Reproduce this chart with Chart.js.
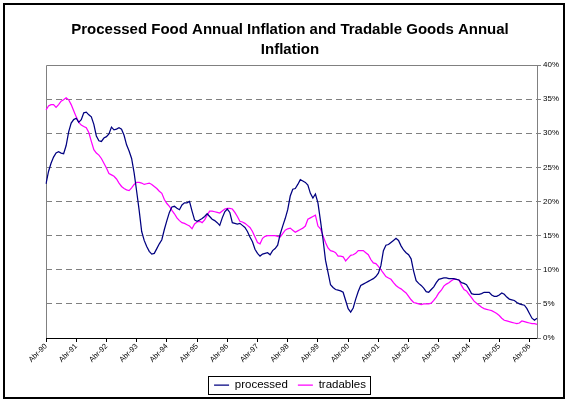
<!DOCTYPE html>
<html>
<head>
<meta charset="utf-8">
<script src="https://cdn.jsdelivr.net/npm/chart.js@4.4.1/dist/chart.umd.min.js"></script>
<style>
  html, body { margin: 0; padding: 0; background: #fff; }
  #wrap { width: 568px; height: 403px; }
</style>
</head>
<body>
<div id="wrap"><canvas id="grafico" width="568" height="403"></canvas></div>
<script>
// meses desde Abr-90 hasta Jul-06 (196 datos mensuales)
const meses = ['Abr', 'May', 'Jun', 'Jul', 'Ago', 'Sep', 'Oct', 'Nov', 'Dic', 'Ene', 'Feb', 'Mar'];
const anios = ['90', '91', '92', '93', '94', '95', '96', '97', '98', '99', '00', '01', '02', '03', '04', '05', '06', '07'];

// inflación anual alimentos procesados (%)
const processed = [
  22.6, 24.4, 25.6, 26.5, 27.1, 27.3, 27.1, 27.0, 28.2, 30.2, 31.5, 32.0,
  32.2, 31.6, 32.0, 33.0, 33.1, 32.7, 32.4, 31.3, 29.6, 28.9, 28.8, 29.3,
  29.5, 29.9, 30.9, 30.5, 30.6, 30.8, 30.6, 29.7, 28.3, 27.4, 26.3, 24.2,
  21.5, 18.7, 15.6, 14.3, 13.4, 12.7, 12.3, 12.4, 13.1, 13.8, 14.4, 15.9,
  17.2, 18.4, 19.2, 19.3, 19.0, 18.8, 19.5, 19.8, 19.8, 20.0, 18.6, 17.3,
  17.1, 17.3, 17.5, 17.8, 18.2, 17.8, 17.4, 17.2, 16.9, 16.5, 17.6, 18.5,
  18.9, 18.4, 16.9, 16.8, 16.7, 16.8, 16.5, 16.2, 15.6, 14.8, 14.1, 13.0,
  12.4, 12.0, 12.3, 12.4, 12.5, 12.2, 12.8, 13.1, 13.6, 15.2, 16.4, 17.5,
  18.8, 20.8, 21.8, 21.9, 22.5, 23.2, 23.0, 22.8, 22.4, 21.2, 20.5, 21.1,
  19.8, 17.2, 14.5, 11.4, 9.6, 7.8, 7.4, 7.1, 7.0, 6.9, 6.7, 5.5,
  4.3, 3.8, 4.4, 5.7, 6.8, 7.7, 7.9, 8.1, 8.3, 8.5, 8.7, 9.0,
  9.5, 10.6, 12.8, 13.6, 13.7, 14.0, 14.3, 14.6, 14.3, 13.5, 12.9, 12.5,
  12.2, 11.6, 9.8, 8.4, 8.0, 7.7, 7.3, 6.8, 6.7, 7.1, 7.5, 8.1,
  8.6, 8.7, 8.8, 8.8, 8.7, 8.7, 8.7, 8.6, 8.5, 8.1, 8.0, 7.8,
  7.2, 6.5, 6.4, 6.4, 6.4, 6.5, 6.7, 6.7, 6.7, 6.3, 6.1, 6.1,
  6.3, 6.6, 6.4, 6.0, 5.7, 5.6, 5.5, 5.2, 5.0, 4.9, 4.8, 4.3,
  3.6, 2.9, 2.6, 2.9
];

// inflación anual bienes transables (%)
const tradables = [
  33.4, 34.0, 34.2, 34.2, 33.8, 34.2, 34.7, 34.9, 35.2, 34.9, 34.2, 33.3,
  32.4, 31.6, 31.2, 31.0, 30.8, 30.1, 28.8, 27.6, 27.1, 26.8, 26.3, 25.6,
  24.9, 24.1, 23.9, 23.7, 23.3, 22.7, 22.2, 21.9, 21.7, 21.6, 22.0, 22.5,
  22.8, 22.8, 22.7, 22.5, 22.6, 22.7, 22.5, 22.2, 21.9, 21.5, 21.2, 20.3,
  19.7, 19.3, 18.7, 18.2, 17.6, 17.2, 16.9, 16.8, 16.6, 16.4, 16.0, 16.7,
  17.0, 17.1, 16.9, 17.3, 18.0, 18.6, 18.6, 18.5, 18.4, 18.3, 18.6, 18.9,
  19.0, 19.0, 18.9, 18.4, 17.8, 17.1, 17.0, 16.8, 16.5, 16.2, 15.6, 14.8,
  14.0, 13.8, 14.6, 14.9, 15.0, 15.0, 15.0, 15.0, 14.9, 14.8, 15.3, 15.8,
  16.0, 16.1, 15.8, 15.5, 15.7, 15.9, 16.1, 16.4, 17.4, 17.6, 17.8, 18.0,
  16.4, 16.0, 15.0, 14.0, 13.2, 12.8, 12.7, 12.5, 12.0, 12.0, 11.9, 11.3,
  11.7, 12.1, 12.2, 12.4, 12.8, 12.8, 12.8, 12.5, 12.2, 11.5, 11.0, 10.9,
  10.5, 10.0, 9.5, 9.0, 8.8, 8.6, 8.1, 7.7, 7.4, 7.2, 6.9, 6.6,
  6.1, 5.6, 5.2, 5.1, 5.0, 4.9, 5.0, 5.0, 5.0, 5.1, 5.5, 6.0,
  6.6, 7.0, 7.6, 7.9, 8.1, 8.4, 8.6, 8.6, 8.5, 7.7, 7.1, 6.9,
  6.4, 5.9, 5.4, 5.1, 4.8, 4.5, 4.3, 4.2, 4.1, 4.0, 3.8, 3.6,
  3.3, 2.9, 2.6, 2.5, 2.4, 2.3, 2.2, 2.1, 2.2, 2.5, 2.4, 2.3,
  2.2, 2.1, 2.1, 2.0
];

const titulo = ['Processed Food Annual Inflation and Tradable Goods Annual', 'Inflation'];
const yTicks = [0, 5, 10, 15, 20, 25, 30, 35, 40];

// etiquetas "Mes-AA" (el año cambia en Ene)
const etiquetas = processed.map((_, i) => {
  const anio = anios[Math.floor((i + 3) / 12)];
  return meses[i % 12] + '-' + anio;
});

const FUENTE = "'Liberation Sans', Arial, sans-serif";

// marco exterior negro, bordes del área de trazado y caja de la leyenda
const marcos = {
  id: 'marcos',
  beforeDatasetsDraw(chart) {
    const { ctx, chartArea: a } = chart;
    ctx.save();
    ctx.strokeStyle = '#808080';
    ctx.lineWidth = 1;
    ctx.beginPath();
    ctx.moveTo(a.left + 0.5, a.bottom);
    ctx.lineTo(a.left + 0.5, a.top + 0.5);
    ctx.lineTo(a.right, a.top + 0.5);
    ctx.stroke();
    ctx.restore();
  },
  afterDraw(chart) {
    const { ctx } = chart;
    ctx.save();
    ctx.strokeStyle = '#000';
    ctx.lineWidth = 2;
    ctx.strokeRect(4, 4, 560, 394);
    const cajas = chart.legend.legendHitBoxes;
    if (cajas && cajas.length) {
      const izq = Math.min(...cajas.map(c => c.left)) - 6;
      const der = Math.max(...cajas.map(c => c.left + c.width)) + 4;
      const arr = Math.min(...cajas.map(c => c.top)) - 3;
      const aba = Math.max(...cajas.map(c => c.top + c.height)) + 3;
      ctx.lineWidth = 1;
      ctx.strokeRect(Math.round(izq) + 0.5, Math.round(arr) + 0.5, Math.round(der - izq), Math.round(aba - arr));
    }
    ctx.restore();
  }
};

new Chart(document.getElementById('grafico'), {
  type: 'line',
  data: {
    labels: etiquetas,
    datasets: [
      { label: 'processed', data: processed, borderColor: '#000080', backgroundColor: '#000080', borderWidth: 1.25, pointRadius: 0, tension: 0, yAxisID: 'y' },
      { label: 'tradables', data: tradables, borderColor: '#FF00FF', backgroundColor: '#FF00FF', borderWidth: 1.25, pointRadius: 0, tension: 0, yAxisID: 'y' }
    ]
  },
  options: {
    responsive: false,
    animation: false,
    devicePixelRatio: 1,
    layout: { padding: { left: 16, right: 4, top: 10, bottom: 2.25 } },
    plugins: {
      title: {
        display: true,
        text: titulo,
        color: '#000',
        font: { family: FUENTE, size: 15, weight: 'bold', lineHeight: 1.3 },
        padding: { top: 10.25, bottom: 5.75 }
      },
      legend: {
        position: 'bottom',
        labels: {
          usePointStyle: true,
          pointStyle: 'line',
          pointStyleWidth: 15,
          boxHeight: 10,
          padding: 10,
          color: '#000',
          font: { family: FUENTE, size: 11.5 }
        }
      },
      tooltip: { enabled: false }
    },
    scales: {
      x: {
        type: 'category',
        offset: false,
        grid: { display: true, drawOnChartArea: false, drawTicks: true, tickLength: 4, color: '#000' },
        border: { display: true, color: '#000' },
        ticks: { autoSkip: false, maxRotation: 45, minRotation: 45, padding: 0, color: '#000', font: { family: FUENTE, size: 7.5 } },
        afterBuildTicks: s => { s.ticks = s.ticks.filter(t => t.value % 12 === 0); },
        afterFit: s => { s.height = 31.25; }
      },
      y: {
        position: 'right',
        min: 0,
        max: 40,
        afterBuildTicks: s => { s.ticks = yTicks.map(v => ({ value: v })); },
        ticks: { padding: 2, color: '#000', font: { family: FUENTE, size: 8 }, callback: v => v + '%' },
        grid: {
          color: c => (c.tick && (c.tick.value === 0 || c.tick.value === 40)) ? 'rgba(0,0,0,0)' : '#808080',
          tickColor: '#808080',
          tickLength: 4
        },
        border: { display: true, color: '#808080', dash: [6, 4] },
        afterFit: s => { s.width = 27; }
      },
      izq: {
        position: 'left',
        display: true,
        grid: { display: false },
        ticks: { display: false },
        border: { display: false },
        afterFit: s => { s.width = 30; }
      }
    }
  },
  plugins: [marcos]
});
</script>
</body>
</html>
